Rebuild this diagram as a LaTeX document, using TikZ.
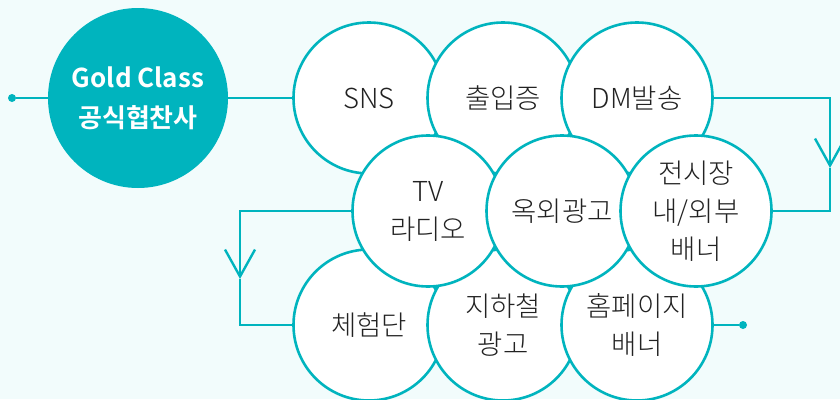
\documentclass[tikz,border=0pt]{standalone}
\usepackage{fontspec}
\setmainfont{Noto Sans CJK KR}[UprightFont={* Light}, BoldFont={* Bold}]
\usetikzlibrary{arrows.meta,positioning}
\definecolor{mint}{HTML}{00B4BE}
\definecolor{paper}{HTML}{F2FCFC}
\definecolor{ink}{HTML}{222222}

\begin{document}
\begin{tikzpicture}[x=1pt,y=-1pt,
  item/.style = {draw=mint, line width=2.6pt, fill=white, circle, minimum size=151pt, inner sep=0pt, align=center, text=ink, font=\fontsize{27.5}{38}\selectfont},
  gold/.style = {fill=mint, circle, minimum size=180pt, inner sep=0pt, align=center, text=white, font=\bfseries\fontsize{26}{40}\selectfont},
  dot/.style = {fill=mint, circle, minimum size=8pt, inner sep=0pt},
  link/.style = {draw=mint, line width=2.4pt},
  barb/.style = {-{Straight Barb[length=27pt,width=30pt]}},
  node distance={134pt}]
\fill[paper] (0,0) rectangle (840,399);
\useasboundingbox (0,0) rectangle (840,399);
% bottom row
\node[item] (exp) at (369,325) {체험단};
\node[item] (subway) [right of=exp] {지하철\\광고};
\node[item] (home) [right of=subway] {홈페이지\\배너};
% top row
\node[item] (sns) at (369,98) {SNS};
\node[item] (pass) [right of=sns] {출입증};
\node[item] (dm) [right of=pass] {DM발송};
% middle row
\node[item] (tv) at (428,211) {TV\\라디오};
\node[item] (ooh) [right of=tv] {옥외광고};
\node[item] (fair) [right of=ooh] {전시장\\내/외부\\배너};
\node[gold] (gold) at (138,98) {Gold Class\\공식협찬사};
\node[dot] (start) at (12,98) {};
\node[dot] (end) at (743,325) {};
\coordinate (rarrow) at (830,168);
\coordinate (larrow) at (240,279);
\draw[link] (start) -- (gold);
\draw[link] (gold) -- (sns);
\draw[link, barb] (dm.east) -| (rarrow);
\draw[link] (rarrow) |- (fair.east);
\draw[link, barb] (tv.west) -| (larrow);
\draw[link] (larrow) |- (exp.west);
\draw[link] (home) -- (end);
\end{tikzpicture}
\end{document}
